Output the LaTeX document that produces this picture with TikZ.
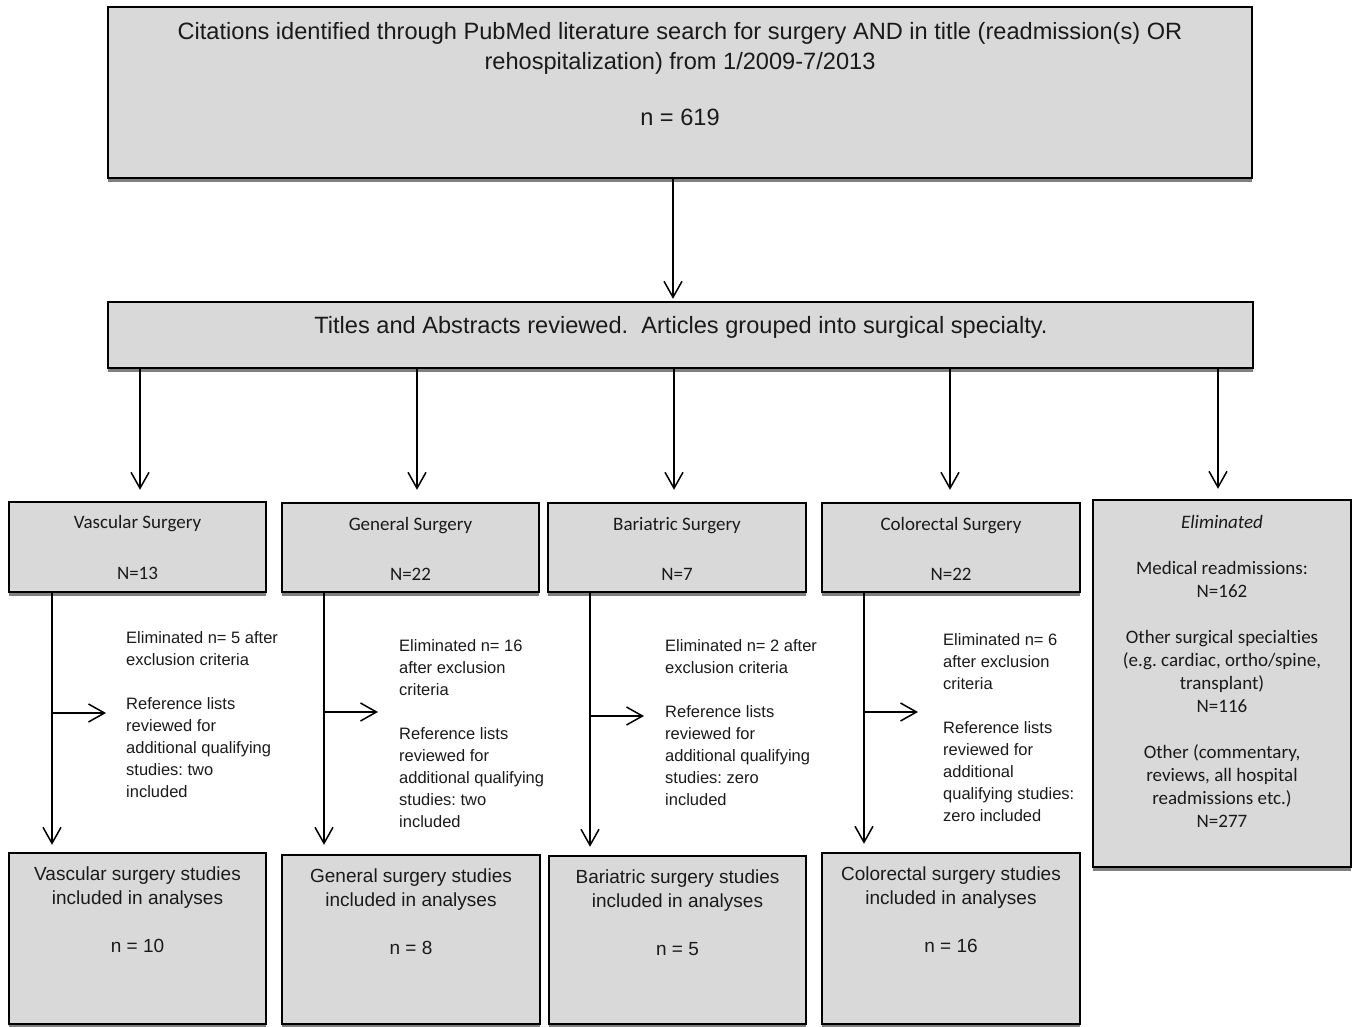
\documentclass[tikz,border=0pt]{standalone}
\usepackage{fontspec}
\setmainfont{Liberation Sans}
\newfontfamily\calib[Ligatures=NoCommon]{Carlito}
\usetikzlibrary{arrows.meta,fit,shadows}
\definecolor{boxgray}{HTML}{D9D9D9}
\definecolor{shadowgray}{HTML}{808080}
\definecolor{txt}{HTML}{1A1A1A}
\frenchspacing
\begin{document}
\begin{tikzpicture}[x=1pt,y=-1pt,
  box/.style={draw=black,line width=2.4pt,fill=boxgray,inner sep=0pt,
    drop shadow={shadow xshift=0pt,shadow yshift=-4pt,fill=shadowgray,opacity=1}},
  conn/.style={line width=1.5pt,draw=black,-{Straight Barb[length=16pt,width=18pt,line width=1.5pt]}},
  topfont/.style={font=\fontsize{23.6}{30}\selectfont,text=txt},
  sidefont/.style={font=\fontsize{16.5}{22}\selectfont,text=txt,align=left,anchor=west,inner sep=0pt},
  botfont/.style={font=\fontsize{19}{24}\selectfont,text=txt,align=center,inner sep=0pt},
  calfont/.style={font=\calib\fontsize{19}{23}\selectfont,text=txt,align=center,inner sep=0pt}]
\useasboundingbox (0,0) rectangle (1355,1026);
% boxes
\node[box,fit={(108,7) (1252,178)}] (top) {};
\node[box,fit={(108,302) (1253,368)}] (mid) {};
\node[box,fit={(9,502) (266,592)}] (vs) {};
\node[box,fit={(282,503) (539,592)}] (gs) {};
\node[box,fit={(548,503) (806,592)}] (bs) {};
\node[box,fit={(822,503) (1080,592)}] (cs) {};
\node[box,fit={(1093,500) (1351,867)}] (el) {};
\node[box,fit={(9,853) (266,1024)}] (vr) {};
\node[box,fit={(282,855) (540,1024)}] (gr) {};
\node[box,fit={(549,856) (806,1024)}] (br) {};
\node[box,fit={(822,853) (1080,1024)}] (cr) {};
% texts
\node[topfont,align=center] (toptxt) at (680,74) {Citations identified through PubMed literature search for surgery AND in title (readmission(s) OR\\rehospitalization) from 1/2009-7/2013\\[26pt]n = 619};
\node[topfont] (midtxt) at (681,327) {Titles and Abstracts reviewed.\ \ Articles grouped into surgical specialty.};
\node[calfont] (vst) at (137.5,547.5) {Vascular Surgery\\[28pt]N=13};
\node[calfont] (gst) at (410.5,549) {General Surgery\\[27pt]N=22};
\node[calfont] (bst) at (677,549) {Bariatric Surgery\\[27pt]N=7};
\node[calfont] (cst) at (951,549) {Colorectal Surgery\\[27pt]N=22};
\node[calfont] (elt) at (1222,671) {\textit{Eliminated}\\[23pt]Medical readmissions:\\N=162\\[23pt]Other surgical specialties\\(e.g. cardiac, ortho/spine,\\transplant)\\N=116\\[23pt]Other (commentary,\\reviews, all hospital\\readmissions etc.)\\N=277};
\node[sidefont] (vside) at (126,715) {Eliminated n= 5 after\\exclusion criteria\\[22pt]Reference lists\\reviewed for\\additional qualifying\\studies: two\\included};
\node[sidefont] (gside) at (399,734) {Eliminated n= 16\\after exclusion\\criteria\\[22pt]Reference lists\\reviewed for\\additional qualifying\\studies: two\\included};
\node[sidefont] (bside) at (665,723) {Eliminated n= 2 after\\exclusion criteria\\[22pt]Reference lists\\reviewed for\\additional qualifying\\studies: zero\\included};
\node[sidefont] (cside) at (943,728) {Eliminated n= 6\\after exclusion\\criteria\\[22pt]Reference lists\\reviewed for\\additional\\qualifying studies:\\zero included};
\node[botfont] (vrt) at (137.5,910) {Vascular surgery studies\\included in analyses\\[24pt]n = 10};
\node[botfont] (grt) at (411,912) {General surgery studies\\included in analyses\\[24pt]n = 8};
\node[botfont] (brt) at (677.5,913) {Bariatric surgery studies\\included in analyses\\[24pt]n = 5};
\node[botfont] (crt) at (951,910) {Colorectal surgery studies\\included in analyses\\[24pt]n = 16};
% connectors
\coordinate (t0) at ([xshift=-7pt]top.south);
\draw[conn,shorten >=2pt] (t0) -- (t0 |- mid.north);
\coordinate (a1) at ([xshift=2.5pt]vs.north);
\coordinate (a2) at ([xshift=6.5pt]gs.north);
\coordinate (a3) at ([xshift=-3pt]bs.north);
\coordinate (a4) at ([xshift=-1pt]cs.north);
\coordinate (a5) at ([xshift=-4pt]el.north);
\draw[conn,shorten >=11pt] (a1 |- mid.south) -- (a1);
\draw[conn,shorten >=12pt] (a2 |- mid.south) -- (a2);
\draw[conn,shorten >=12pt] (a3 |- mid.south) -- (a3);
\draw[conn,shorten >=12pt] (a4 |- mid.south) -- (a4);
\draw[conn,shorten >=10pt] (a5 |- mid.south) -- (a5);
\coordinate (v1) at ([xshift=-85.5pt]vs.south);
\coordinate (v2) at ([xshift=-86.5pt]gs.south);
\coordinate (v3) at ([xshift=-87pt]bs.south);
\coordinate (v4) at ([xshift=-87pt]cs.south);
\draw[conn,shorten >=7pt] (v1) -- (v1 |- vr.north);
\draw[conn,shorten >=9pt] (v2) -- (v2 |- gr.north);
\draw[conn,shorten >=8pt] (v3) -- (v3 |- br.north);
\draw[conn,shorten >=8pt] (v4) -- (v4 |- cr.north);
\coordinate (h1s) at (52,713);  \coordinate (h1e) at (106,713);
\coordinate (h2s) at (324,712); \coordinate (h2e) at (378,712);
\coordinate (h3s) at (590,716); \coordinate (h3e) at (644,716);
\coordinate (h4s) at (864,712); \coordinate (h4e) at (918,712);
\draw[conn] (h1s) -- (h1e);
\draw[conn] (h2s) -- (h2e);
\draw[conn] (h3s) -- (h3e);
\draw[conn] (h4s) -- (h4e);
\end{tikzpicture}
\end{document}
